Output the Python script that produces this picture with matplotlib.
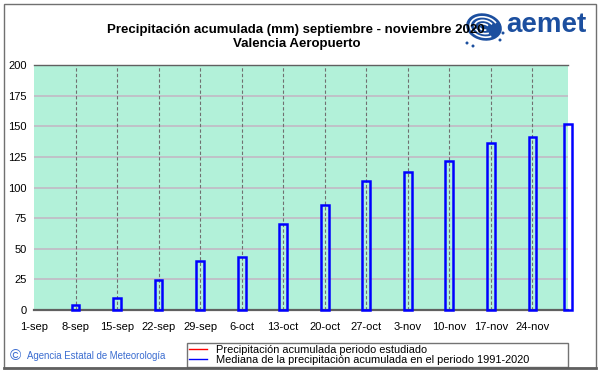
import matplotlib.pyplot as plt
from matplotlib.lines import Line2D
from matplotlib.patches import Rectangle, Ellipse, Arc

# -------------------------------------------------
# Data
# -------------------------------------------------
tick_labels = ["1-sep", "8-sep", "15-sep", "22-sep", "29-sep", "6-oct", "13-oct",
               "20-oct", "27-oct", "3-nov", "10-nov", "17-nov", "24-nov"]
tick_days = [0, 7, 14, 21, 28, 35, 42, 49, 56, 63, 70, 77, 84]

bar_days = [7, 14, 21, 28, 35, 42, 49, 56, 63, 70, 77, 84, 90]
median_acc = [4, 10, 24.5, 40, 43, 70.5, 86, 105, 113, 122, 136, 141, 151.5]

period_days = []      # studied period (no data drawn)
period_acc = []

title = "Precipitación acumulada (mm) septiembre - noviembre 2020\nValencia Aeropuerto"

plt.rcParams["font.family"] = ["Liberation Sans", "DejaVu Sans"]

W, H = 601, 374
fig = plt.figure(figsize=(W / 100, H / 100), dpi=100)
fig.patch.set_facecolor("white")

ax = fig.add_axes([34 / W, 1 - 310 / H, (568 - 34) / W, (310 - 65) / H])
ax.set_facecolor("#b2f1d9")

# -------------------------------------------------
# Grid
# -------------------------------------------------
for y in range(25, 200, 25):
    ax.axhline(y, color="#c4b4c4", linewidth=1.1, zorder=1)
for d in tick_days[1:]:
    ax.axvline(d, color="#707070", linewidth=0.8, linestyle=(0, (3, 2)), zorder=1)

# -------------------------------------------------
# Bars (median 1991-2020)
# -------------------------------------------------
ax.bar(bar_days, median_acc, width=1.3, facecolor="none", edgecolor="#0000ff",
       linewidth=1.8, zorder=3, clip_on=False)

ax.plot(period_days, period_acc, color="red")

# -------------------------------------------------
# Axes formatting
# -------------------------------------------------
ax.set_xlim(0, 90)
ax.set_ylim(0, 200)
ax.set_yticks(range(0, 201, 25))
ax.set_xticks(tick_days)
ax.set_xticklabels(tick_labels)
ax.tick_params(length=0, labelsize=8, colors="black")
ax.tick_params(axis="x", pad=9)
ax.tick_params(axis="y", pad=5)
for s in ["left", "right"]:
    ax.spines[s].set_visible(False)
ax.spines["top"].set_color("#606060")
ax.spines["top"].set_linewidth(1.0)
ax.spines["bottom"].set_color("#606060")
ax.spines["bottom"].set_linewidth(1.6)

# -------------------------------------------------
# Title and logo
# -------------------------------------------------
fig.text(0.493, 1 - 37 / H, title, ha="center", va="center", fontsize=9.5,
         fontweight="bold", linespacing=1.25)

fig.text(506 / W, 1 - 25 / H, "aemet", ha="left", va="center", fontsize=20,
         fontweight="bold", color="#1c4f9f", zorder=5)

# swirl icon
icon_ax = fig.add_axes([463 / W, 1 - 50 / H, 42 / W, 40 / H])
icon_ax.set_xlim(0, 42)
icon_ax.set_ylim(0, 40)
icon_ax.axis("off")
icon_ax.add_patch(Ellipse((21, 23), 36, 27, angle=-12, facecolor="#1c4f9f",
                          edgecolor="none"))
for w, h in [(28, 20), (19, 13), (10, 6)]:
    icon_ax.add_patch(Arc((21, 23), w, h, angle=-12, theta1=30, theta2=320,
                          color="white", linewidth=1.2))
for px, py in [(4, 7), (10, 4), (37, 10), (40, 17)]:
    icon_ax.add_patch(Ellipse((px, py), 3, 3, facecolor="#1c4f9f",
                              edgecolor="none"))

# -------------------------------------------------
# Legend
# -------------------------------------------------
handles = [Line2D([], [], color="red", linewidth=1),
           Line2D([], [], color="#0000ff", linewidth=1)]
labels = ["Precipitación acumulada periodo estudiado",
          "Mediana de la precipitación acumulada en el periodo 1991-2020"]
leg = fig.legend(handles, labels, loc="lower left",
                 bbox_to_anchor=(187 / W, 1 - 367 / H, (568 - 187) / W, 30 / H),
                 mode="expand", fontsize=7.9, frameon=True, fancybox=False,
                 edgecolor="#505050", borderpad=0.2, labelspacing=0.0,
                 handlelength=1.6, handletextpad=0.8, borderaxespad=0)
leg.get_frame().set_linewidth(1.0)

# -------------------------------------------------
# Footer
# -------------------------------------------------
fig.text(10 / W, 1 - 356 / H, "©", ha="left", va="center", fontsize=11,
         color="#3a6cd0")
fig.text(27 / W, 1 - 356 / H, "Agencia Estatal de Meteorología", ha="left",
         va="center", fontsize=6.9, color="#3a6cd0")

# outer frame
fig.patches.append(Rectangle((4 / W, 1 - 368 / H), 592 / W, 364 / H,
                             transform=fig.transFigure, fill=False,
                             edgecolor="#707070", linewidth=1.0))
fig.add_artist(Line2D([4 / W, 596 / W], [1 - 368 / H, 1 - 368 / H],
                      transform=fig.transFigure, color="#606060", linewidth=2))

fig.savefig("out.png", dpi=100)
